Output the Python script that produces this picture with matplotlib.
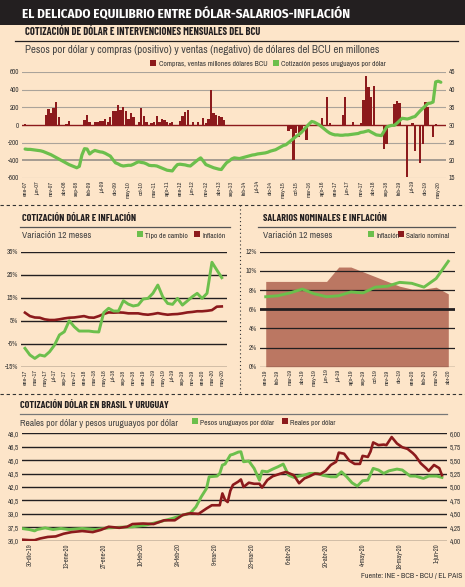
import numpy as np
import pandas as pd
import matplotlib
matplotlib.use('Agg')
import matplotlib.pyplot as plt
from matplotlib.patches import Rectangle
from matplotlib.lines import Line2D

# ---------------- data ----------------
# panel 1: monthly, ene-07 .. jun-20
bcu_compras = [
    11, 0, 0, 0, 0, 0, 0, 0, 113, 181, 132, 188,          # 2007
    256, 94, 0, 0, 11, 41, 0, 0, 0, 0, 0, 60,             # 2008
    113, 38, 0, 30, 30, 49, 49, 68, 38, 87, 155, 162,     # 2009
    226, 170, 207, 162, 68, 132, 94, 0, 30, 192, 106, 30, # 2010
    0, 19, 38, 98, 30, 68, 57, 30, 19, 38, 0, 0,          # 2011
    49, 106, 143, 170, 0, 30, 0, 38, 0, 79, 19, 68,       # 2012
    396, 136, 113, 106, 87, 60, 0, 0, 0, 0, 0, 0,         # 2013
    0, 0, 0, 0, 0, 0, 0, 0, 0, 0, 0, 0,                   # 2014
    0, 0, 0, 0, 0, 0, -64, -45, -396, -94, -140, -72,     # 2015
    0, -170, 0, 0, 0, 0, 0, 79, 0, 313, 23, 0,            # 2016
    0, 0, 0, 113, 313, 0, 0, 38, 0, 0, 23, 287,           # 2017
    558, 434, 320, 445, 0, 0, 0, -271, -215, -19, 0, 237, # 2018
    268, 245, 0, 0, -584, 0, 23, -298, 0, -434, -215, 264,# 2019
    207, 0, -140, 11, 0, 0,                               # 2020
]
cotizacion_uy = [
    23.2, 23.1, 23.1, 23.0, 22.9, 22.8, 22.7, 22.5, 22.2, 21.9, 21.6, 21.2,
    20.8, 20.4, 20.0, 19.6, 19.2, 18.8, 18.5, 18.2, 17.9, 18.3, 21.5, 23.3,
    23.2, 21.8, 22.4, 22.8, 22.6, 22.4, 22.3, 22.0, 21.6, 21.2, 20.2, 19.3,
    19.0, 18.6, 18.4, 18.5, 18.6, 18.6, 18.9, 19.3, 19.6, 19.4, 19.3, 19.0,
    18.6, 18.5, 18.5, 18.4, 18.1, 17.8, 17.5, 17.2, 17.1, 17.0, 18.0, 18.8,
    18.9, 18.8, 18.7, 18.5, 18.4, 19.0, 19.6, 20.2, 20.7, 19.8, 18.8, 18.5,
    18.2, 17.9, 17.7, 17.5, 17.4, 18.4, 19.3, 19.8, 20.4, 20.7, 20.6, 20.5,
    20.7, 20.9, 21.1, 21.3, 21.5, 21.6, 21.8, 21.9, 22.0, 22.1, 22.3, 22.6,
    22.8, 23.0, 23.4, 23.8, 24.2, 24.4, 25.0, 25.6, 26.2, 26.8, 27.3, 27.9,
    28.7, 29.5, 30.3, 31.0, 30.8, 30.4, 30.0, 29.4, 28.8, 28.2, 27.7, 27.4,
    27.2, 27.2, 27.1, 27.1, 27.2, 27.2, 27.3, 27.4, 27.5, 27.6, 27.9, 28.0,
    28.2, 28.4, 28.0, 27.6, 27.2, 27.1, 27.0, 28.2, 29.4, 29.7, 29.9, 29.9,
    30.5, 31.2, 31.9, 31.8, 31.7, 31.9, 32.2, 32.4, 33.2, 34.0, 34.7, 35.4,
    36.1, 36.2, 36.5, 42.2, 42.4, 42.1,
]
p1_labels = ['ene-07', 'jun-07', 'nov-07', 'abr-08', 'sep-08', 'feb-09', 'jul-09',
             'dic-09', 'may-10', 'oct-10', 'mar-11', 'ago-11', 'ene-12', 'jun-12',
             'nov-12', 'abr-13', 'sep-13', 'feb-14', 'jul-14', 'dic-14', 'may-15',
             'oct-15', 'mar-16', 'ago-16', 'ene-17', 'jun-17', 'nov-17', 'abr-18',
             'sep-18', 'feb-19', 'jul-19', 'dic-19', 'may-20']

# panel 2: monthly ene-17 .. may-20, variacion 12 meses (%)
tipo_cambio = [-7.0, -9.9, -11.4, -9.9, -10.4, -8.5, -5.6, -1.2, 0.2, 5.0, 2.4,
               0.5, 0.5, 0.5, 0.2, 0.1, 8.5, 10.4, 9.2, 9.2, 13.7, 12.2, 11.4,
               11.8, 14.4, 14.7, 16.9, 20.5, 15.4, 12.5, 12.1, 14.7, 11.8, 13.6,
               15.4, 16.9, 14.7, 16.9, 30.4, 27.0, 23.7]
inflacion_17 = [8.5, 7.0, 6.4, 6.3, 5.6, 5.3, 5.3, 5.6, 6.0, 6.3, 6.4, 6.7, 7.0,
                6.4, 6.3, 7.0, 7.9, 8.6, 8.5, 8.6, 8.5, 8.2, 8.2, 8.2, 7.8, 7.6,
                7.9, 8.3, 7.9, 7.6, 7.8, 7.9, 8.2, 8.6, 8.8, 9.1, 9.1, 9.3, 9.6,
                11.1, 11.2]
p2_labels = ['ene-17', 'mar-17', 'may-17', 'jul-17', 'sep-17', 'nov-17', 'ene-18',
             'mar-18', 'may-18', 'jul-18', 'sep-18', 'nov-18', 'ene-19', 'mar-19',
             'may-19', 'jul-19', 'sep-19', 'nov-19', 'ene-20', 'mar-20', 'may-20']

# panel 3: monthly ene-19 .. abr-20
salario_nominal = [8.9, 8.9, 8.9, 8.9, 8.9, 8.9, 10.4, 10.4, 9.9, 9.4, 8.9, 8.4,
                   8.1, 8.1, 8.3, 7.6]
inflacion_19 = [7.3, 7.4, 7.7, 8.1, 7.6, 7.3, 7.4, 7.8, 7.7, 8.3, 8.4, 8.8, 8.7,
                8.3, 9.2, 11.0]
p3_labels = ['ene-19', 'feb-19', 'mar-19', 'abr-19', 'may-19', 'jun-19', 'jul-19',
             'ago-19', 'sep-19', 'oct-19', 'nov-19', 'dic-19', 'ene-20', 'feb-20',
             'mar-20', 'abr-20']

# panel 4: days after 30-dic-19
uy_dias = [-3, 0, 2, 3, 6, 9, 12, 15, 20, 25, 30, 34, 39, 44, 49, 54, 58, 61, 63,
           65, 67, 68, 71, 72, 73, 74, 76, 77, 79, 80, 81, 83, 85, 87, 88, 90, 92,
           94, 96, 98, 100, 102, 104, 106, 109, 111, 114, 116, 118, 120, 122, 124,
           126, 128, 130, 132, 134, 136, 139, 141, 144, 146, 149, 151, 154, 156]
uy_pesos = [37.37, 37.25, 37.1, 37.25, 37.43, 37.25, 37.37, 37.25, 37.37, 37.25,
            37.43, 37.5, 37.55, 37.74, 38.1, 38.48, 38.85, 39.11, 39.78, 40.9,
            41.84, 43.14, 43.22, 43.52, 44.45, 44.56, 45.57, 45.65, 45.9, 45.94,
            44.82, 44.9, 44.08, 42.77, 43.78, 43.7, 44.0, 44.26, 44.56, 43.33,
            43.07, 43.22, 43.33, 43.52, 43.52, 43.3, 43.14, 43.14, 43.7, 43.14,
            42.47, 42.1, 42.7, 42.77, 44.08, 43.9, 43.52, 43.81, 44.0, 43.9,
            43.22, 43.22, 42.96, 43.22, 43.22, 43.07]
br_dias = [-3, 0, 2, 4, 7, 10, 13, 16, 20, 24, 27, 30, 34, 37, 39, 43, 47, 51, 55,
           58, 61, 64, 67, 69, 72, 73, 74, 75, 76, 77, 79, 80, 81, 83, 85, 87, 88,
           90, 92, 95, 97, 99, 100, 102, 104, 106, 108, 110, 112, 114, 116, 117,
           119, 121, 123, 125, 126, 128, 129, 130, 132, 134, 135, 137, 139, 141,
           143, 145, 146, 148, 150, 151, 153, 155, 156]
br_reales = [4.02, 4.01, 4.01, 4.04, 4.07, 4.08, 4.13, 4.16, 4.18, 4.16, 4.2,
             4.26, 4.24, 4.26, 4.31, 4.32, 4.31, 4.38, 4.38, 4.48, 4.51, 4.50,
             4.6, 4.66, 4.66, 4.88, 4.76, 4.72, 4.93, 5.04, 5.10, 5.14, 5.0, 5.08,
             5.06, 5.06, 4.99, 5.13, 5.2, 5.25, 5.28, 5.24, 5.22, 5.07, 5.16, 5.2,
             5.25, 5.24, 5.3, 5.41, 5.47, 5.64, 5.62, 5.49, 5.43, 5.43, 5.58,
             5.56, 5.66, 5.83, 5.78, 5.79, 5.78, 5.93, 5.81, 5.74, 5.71, 5.63,
             5.58, 5.44, 5.35, 5.30, 5.41, 5.35, 5.22]
p4_labels = ['30-dic-19', '13-ene-20', '27-ene-20', '10-feb-20', '24-feb-20',
             '9-mar-20', '23-mar-20', '6-abr-20', '20-abr-20', '4-may-20',
             '18-may-20', '1-jun-20']

# ---------------- style ----------------
W, H = 465, 587
BG = '#fde5c9'
GREEN = '#6cbf4c'
RED = '#8c1a1c'
AREA = '#bb7762'
DARK = '#231f20'
BODY = ['Archivo Narrow', 'Liberation Sans', 'DejaVu Sans']
HEAD = ['Barlow Condensed', 'DejaVu Sans']
TITLE = ['Fira Sans Condensed', 'DejaVu Sans']
plt.rcParams['font.family'] = BODY
plt.rcParams['axes.unicode_minus'] = False


def box(x0, y0, x1, y1):
    return [x0 / W, 1 - y1 / H, (x1 - x0) / W, (y1 - y0) / H]


def fx(x):
    return x / W


def fy(y):
    return 1 - y / H


fig = plt.figure(figsize=(W / 100, H / 100), dpi=100, facecolor=BG)


def hline(x0, x1, y, **kw):
    fig.add_artist(Line2D([fx(x0), fx(x1)], [fy(y), fy(y)], transform=fig.transFigure, **kw))


def vline(x, y0, y1, **kw):
    fig.add_artist(Line2D([fx(x), fx(x)], [fy(y0), fy(y1)], transform=fig.transFigure, **kw))


def square(x, y, color):
    fig.add_artist(Rectangle((fx(x), fy(y + 3)), 6 / W, 6 / H, transform=fig.transFigure,
                             color=color, lw=0))


def legend_text(x, y, s):
    fig.text(fx(x), fy(y), s, fontsize=5.4, color='#333333', va='center', ha='left')


def header(x, y, s, size=7.2):
    fig.text(fx(x), fy(y), s, fontsize=size, fontweight='bold', va='center', color=DARK,
             family=HEAD)


def subtitle(x, y, s, size=7.0):
    fig.text(fx(x), fy(y), s, fontsize=size, va='center', color='#444444')


def clean(ax):
    ax.set_facecolor('none')
    for s in ax.spines.values():
        s.set_visible(False)
    ax.tick_params(length=0, labelsize=5.0, colors='#333333', pad=2)


# title bar
fig.add_artist(Rectangle((0, fy(25)), 1, 25 / H, transform=fig.transFigure, color=DARK, lw=0))
fig.text(fx(22), fy(13.5), 'EL DELICADO EQUILIBRIO ENTRE DÓLAR-SALARIOS-INFLACIÓN',
         color='white', fontsize=9.4, fontweight='bold', va='center', family=TITLE)

# ---------------- panel 1 ----------------
header(25, 32, 'COTIZACIÓN DE DÓLAR E INTERVENCIONES MENSUALES DEL BCU', 7.5)
hline(15, 458, 41, color=DARK, lw=0.9)
subtitle(25, 50, 'Pesos por dólar y compras (positivo) y ventas (negativo) de dólares del BCU en millones', 7.9)
square(150, 63, RED)
legend_text(159, 64, 'Compras, ventas millones dólares BCU')
square(273, 63, GREEN)
legend_text(281, 64, 'Cotización pesos uruguayos por dólar')

ax1 = fig.add_axes(box(22, 72, 446, 178))
clean(ax1)
meses1 = np.arange(len(bcu_compras))
for v in [600, 400, 200, -200, -600]:
    ax1.axhline(v, color='#aaa39a', lw=0.8, zorder=0)
ax1.axhline(-400, color='#8e8882', lw=1.1, zorder=0)
ax1.bar(meses1, bcu_compras, width=0.9, color=RED, zorder=2)
ax1.axhline(0, color=RED, lw=1.0, zorder=2)
ax1.set_ylim(-600, 600)
ax1.set_xlim(-1.2, 163)
ax1.set_yticks([600, 400, 200, 0, -200, -400, -600])
ax1.set_xticks(np.arange(0, 161, 5))
ax1.set_xticklabels(p1_labels, rotation=90, fontsize=4.4)
ax1b = ax1.twinx()
clean(ax1b)
ax1b.plot(np.arange(len(cotizacion_uy)), cotizacion_uy, color=GREEN, lw=2.3,
          solid_capstyle='round', zorder=3)
ax1b.set_ylim(15, 45)
ax1b.set_yticks([45, 40, 35, 30, 25, 20, 15])

# separators
hline(0, 465, 205, color='#333333', lw=0.8, ls=(0, (3, 2.5)))
vline(240, 205, 393, color='#333333', lw=0.8, ls=(0, (1, 2.5)))
hline(0, 465, 394, color='#333333', lw=0.8, ls=(0, (3, 2.5)))

# ---------------- panel 2 ----------------
header(22, 218, 'COTIZACIÓN DÓLAR E INFLACIÓN')
hline(20, 230, 227, color='#555555', lw=0.9)
subtitle(22, 236, 'Variación 12 meses', 6.8)
square(137, 234, GREEN)
legend_text(145, 236, 'Tipo de cambio')
square(194, 234, RED)
legend_text(202, 236, 'Inflación')

ax2 = fig.add_axes(box(20.7, 251.7, 226.7, 366.7))
clean(ax2)
for v in [35, 25, 15, 5, -5, -15]:
    ax2.axhline(v, color=DARK, lw=1.0, zorder=0)
m2 = np.arange(len(tipo_cambio))
ax2.plot(m2, inflacion_17, color=RED, lw=1.9, zorder=2)
ax2.plot(m2, tipo_cambio, color=GREEN, lw=2.1, zorder=3)
ax2.set_ylim(-15, 35)
ax2.set_xlim(-0.87, 41)
ax2.set_yticks([35, 25, 15, 5, -5, -15])
ax2.set_yticklabels([f'{v}%' for v in [35, 25, 15, 5, -5, -15]])
ax2.set_xticks(np.arange(0, 41, 2))
ax2.set_xticklabels(p2_labels, rotation=90, fontsize=4.4)

# ---------------- panel 3 ----------------
header(263, 218, 'SALARIOS NOMINALES E INFLACIÓN')
hline(258, 455, 227, color='#555555', lw=0.9)
subtitle(263, 236, 'Variación 12 meses', 6.8)
square(368, 234, GREEN)
legend_text(376, 236, 'Inflación')
square(398, 234, RED)
legend_text(406, 236, 'Salario nominal')

ax3 = fig.add_axes(box(260, 251.7, 455, 366.7))
clean(ax3)
m3 = np.arange(len(salario_nominal))
ax3.fill_between(m3, 0, salario_nominal, color=AREA, lw=0, zorder=1)
for v in [12, 10, 8, 4, 2, 0]:
    ax3.axhline(v, color=DARK, lw=0.9, zorder=2)
ax3.axhline(6, color=DARK, lw=2.0, zorder=2)
ax3.plot(m3, inflacion_19, color=GREEN, lw=2.1, zorder=3)
ax3.set_ylim(0, 12)
ax3.set_xlim(-0.47, 15.55)
ax3.set_yticks([12, 10, 8, 6, 4, 2, 0])
ax3.set_yticklabels([f'{v}%' for v in [12, 10, 8, 6, 4, 2, 0]])
ax3.set_xticks(m3)
ax3.set_xticklabels(p3_labels, rotation=90, fontsize=4.4)

# ---------------- panel 4 ----------------
header(20, 406, 'COTIZACIÓN DÓLAR EN BRASIL Y URUGUAY')
hline(20, 447, 414, color='#777777', lw=0.9)
subtitle(20, 423, 'Reales por dólar y pesos uruguayos por dólar', 6.8)
square(192, 421, GREEN)
legend_text(200, 423, 'Pesos uruguayos por dólar')
square(282, 421, RED)
legend_text(290, 423, 'Reales por dólar')

ax4 = fig.add_axes(box(21.7, 433.3, 446.7, 540.7))
clean(ax4)
y4 = np.arange(36, 48.01, 1.5)
for v in y4:
    ax4.axhline(v, color=DARK, lw=1.0, zorder=0)
ax4.plot(uy_dias, uy_pesos, color=GREEN, lw=2.1, zorder=2)
ax4.set_ylim(36, 48)
ax4.set_xlim(-2.87, 157.8)
ax4.set_yticks(y4)
ax4.set_yticklabels([f'{v:.1f}'.replace('.', ',') for v in y4])
ax4.set_xticks(np.arange(0, 155, 14))
ax4.set_xticklabels(p4_labels, rotation=90, fontsize=4.7)
ax4b = ax4.twinx()
clean(ax4b)
ax4b.plot(br_dias, br_reales, color=RED, lw=1.9, zorder=3)
ax4b.set_ylim(4, 6)
y4b = np.arange(4, 6.01, 0.25)
ax4b.set_yticks(y4b)
ax4b.set_yticklabels([f'{v:.2f}'.replace('.', ',') for v in y4b])

fig.text(fx(462), fy(576), 'Fuente: INE - BCB - BCU / EL PAIS', fontsize=5.6,
         ha='right', va='center', color='#333333')

fig.savefig('out.png', dpi=100, facecolor=BG)
